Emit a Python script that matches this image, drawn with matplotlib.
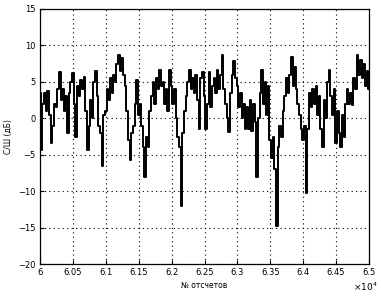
import numpy as np
import matplotlib
matplotlib.use("Agg")
import matplotlib.pyplot as plt

# отсчеты: 60000 .. 65000 с шагом 25
x_start = 60000
x_step = 25

# С/Ш (дБ)
snr_db = [
    3.5, -4.3, 2.0, 3.5, 1.0, 3.8, 0.5, -3.4, -1.0, 2.0,
    1.5, 4.0, 6.4, 2.5, 4.0, 1.0, 3.0, -2.0, 3.5, 5.0,
    6.2, 2.0, -2.5, 4.5, 3.0, 5.2, 4.0, 5.6, 1.0, -4.3,
    -1.0, 2.5, 0.0, 5.0, 6.5, 3.0, -1.0, -2.0, -6.6, 0.5,
    1.0, 4.0, 2.5, 5.5, 3.5, 6.0, 5.0, 7.5, 8.7, 6.5,
    8.3, 6.0, 4.5, 1.0, -3.0, -5.7, -2.0, -1.0, 2.0, 5.2,
    0.5, 2.0, -1.0, -4.0, -8.0, -2.5, -4.0, 1.0, 3.0, 5.0,
    2.0, 5.5, 4.0, 6.6, 4.5, 5.0, 2.0, 4.0, 1.0, 6.6,
    4.5, 2.0, 4.0, 0.0, -2.5, -4.0, -12.1, -2.0, 1.0, 3.0,
    5.0, 6.6, 4.0, 5.5, 3.5, 6.0, 2.5, -1.5, 5.5, 6.4,
    3.0, -1.5, 2.0, 6.4, 1.5, 4.5, 5.5, 3.5, 6.6, 4.0,
    6.0, 8.7, 4.0, 2.0, 0.0, -1.9, 3.5, 6.0, 7.8, 5.5,
    4.5, 1.5, 3.5, 0.0, 2.0, -1.5, 1.5, -1.5, 2.5, -1.8,
    2.0, -0.5, -8.0, 0.0, 3.5, 6.6, 2.0, 5.0, 0.5, 4.5,
    -3.0, -5.5, -2.5, -7.0, -14.8, -4.0, -1.0, -2.5, 1.0, 3.0,
    5.5, 3.5, 6.0, 8.4, 4.5, 7.0, 4.0, 2.0, 0.5, -1.5,
    -3.0, -1.0, -10.3, -1.5, 3.5, 1.5, 4.0, 2.0, 4.5, 0.5,
    3.0, -1.5, -3.9, 2.5, 0.0, 5.0, 6.6, 3.0, 0.5, 4.0,
    -3.4, 1.0, -2.0, -3.9, 0.5, -2.5, 2.0, 4.0, 2.0, 3.5,
    1.8, 5.5, 4.0, 8.7, 6.0, 8.0, 5.5, 7.5, 4.5, 6.5, 4.0,
]
samples = [x_start + x_step * i for i in range(len(snr_db))]

x_ticks = [60000 + 500 * k for k in range(11)]
x_tick_labels = ['6', '6.05', '6.1', '6.15', '6.2', '6.25', '6.3', '6.35', '6.4', '6.45', '6.5']
y_ticks = [-20, -15, -10, -5, 0, 5, 10, 15]

plt.rcParams['font.family'] = ['DejaVu Sans']
fig = plt.figure(figsize=(3.81, 2.99), dpi=100)
ax = fig.add_axes([40 / 381, 35 / 299, 329 / 381, 255 / 299])

# ступенчатая линия дает вертикальные штрихи, как в оригинале
ax.plot(samples, snr_db, color='black', linewidth=1.4, drawstyle='steps-mid')

ax.set_xlim(60000, 65000)
ax.set_ylim(-20, 15)
ax.set_xticks(x_ticks)
ax.set_xticklabels(x_tick_labels)
ax.set_yticks(y_ticks)
ax.grid(True, color='black', linestyle=(0, (1, 3)), linewidth=0.8)
ax.tick_params(direction='in', length=3, labelsize=6, pad=3, width=0.8)
for s in ax.spines.values():
    s.set_linewidth(0.9)

ax.set_xlabel('№ отсчетов', fontsize=5.5, labelpad=3)
ax.set_ylabel('С/Ш (дБ)', fontsize=5.5, labelpad=4)
fig.text(365 / 381, 1 - 287 / 299, r'$\times10^{4}$', fontsize=6.5, ha='center', va='center')

fig.savefig('out.png', dpi=100)
